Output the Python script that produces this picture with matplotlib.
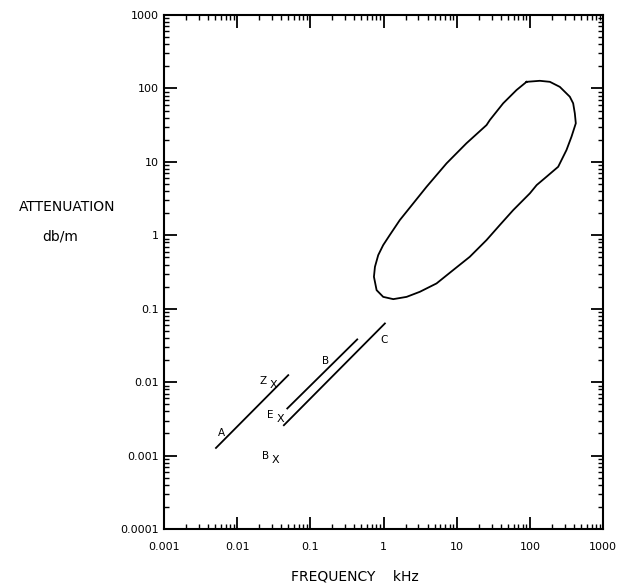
import matplotlib
matplotlib.use("Agg")
import matplotlib.pyplot as plt
import numpy as np

# Straight-line data sets
line_A_x = [0.00513, 0.0499]
line_A_y = [0.00127, 0.01245]
line_B_x = [0.0484, 0.4375]
line_B_y = [0.00438, 0.0382]
line_C_x = [0.0435, 1.045]
line_C_y = [0.00259, 0.063]

line_labels = ["A", "B", "C"]
line_label_x = [0.0061, 0.162, 1.01]
line_label_y = [0.00202, 0.0193, 0.0373]

# Single measurement points (marked with X)
point_names = ["Z", "E", "B"]
point_x = [0.0311, 0.0385, 0.0339]
point_y = [0.0091, 0.00313, 0.000865]

# Closed region (frequency kHz, attenuation db/m)
region_x = [90.2, 137, 188, 257, 352, 391, 412, 425, 371, 317, 244, 169, 124, 100,
            59.2, 38.9, 25.6, 15.1, 8.96, 5.31, 3.14, 2.07, 1.36, 0.99, 0.805, 0.740,
            0.764, 0.847, 0.99, 1.22, 1.67, 2.55, 3.88, 7.28, 13.6, 25.6, 28.4, 43.2,
            65.8, 90.2]
region_y = [123, 127, 123, 105, 77.1, 62.7, 45.8, 33.5, 22.0, 14.5, 8.57, 6.27, 4.83, 3.72,
            2.20, 1.38, 0.861, 0.509, 0.336, 0.221, 0.170, 0.145, 0.135, 0.145, 0.179, 0.272,
            0.372, 0.537, 0.735, 1.01, 1.61, 2.72, 4.58, 9.55, 17.9, 31.7, 37.1, 62.7,
            95.1, 123]

x_ticks = [0.001, 0.01, 0.1, 1, 10, 100, 1000]
x_ticklabels = ["0.001", "0.01", "0.1", "1", "10", "100", "1000"]
y_ticks = [0.0001, 0.001, 0.01, 0.1, 1, 10, 100, 1000]
y_ticklabels = ["0.0001", "0.001", "0.01", "0.1", "1", "10", "100", "1000"]

plt.rcParams['font.family'] = ['DejaVu Sans']

fig = plt.figure(figsize=(6.17, 5.86), dpi=100)
ax = fig.add_axes([164/617, 1-529/586, (603-164)/617, (529-15)/586])
ax.set_xscale('log')
ax.set_yscale('log')
ax.set_xlim(0.001, 1000)
ax.set_ylim(0.0001, 1000)

lw = 1.3
ax.plot(line_A_x, line_A_y, color='black', lw=lw)
ax.plot(line_B_x, line_B_y, color='black', lw=lw)
ax.plot(line_C_x, line_C_y, color='black', lw=lw)
ax.plot(region_x, region_y, color='black', lw=lw, solid_joinstyle='round')

for lab, lx, ly in zip(line_labels, line_label_x, line_label_y):
    ax.text(lx, ly, lab, fontsize=7.5, ha='center', va='center')

for name, px, py in zip(point_names, point_x, point_y):
    ax.text(px, py, "X", fontsize=8, ha='center', va='center')
    ax.annotate(name, (px, py), xytext=(-7.3, 3.2), textcoords='offset points',
                fontsize=7.5, ha='center', va='center')

ax.set_xticks(x_ticks)
ax.set_xticklabels(x_ticklabels)
ax.set_yticks(y_ticks)
ax.set_yticklabels(y_ticklabels)
ax.tick_params(which='major', direction='in', length=9, width=1.3,
               top=True, right=True, labelsize=8)
ax.tick_params(axis='x', which='major', pad=9)
ax.tick_params(axis='y', which='major', pad=4)
ax.tick_params(which='minor', direction='in', length=3.5, width=1.0,
               top=True, right=True)
for s in ax.spines.values():
    s.set_linewidth(1.5)

fig.text(67/617, 1-207/586, "ATTENUATION", fontsize=10, ha='center', va='center')
fig.text(60/617, 1-236/586, "db/m", fontsize=10, ha='center', va='center')
fig.text(355/617, 1-576/586, "FREQUENCY    kHz", fontsize=10, ha='center', va='center')

fig.savefig("out.png", dpi=100)
